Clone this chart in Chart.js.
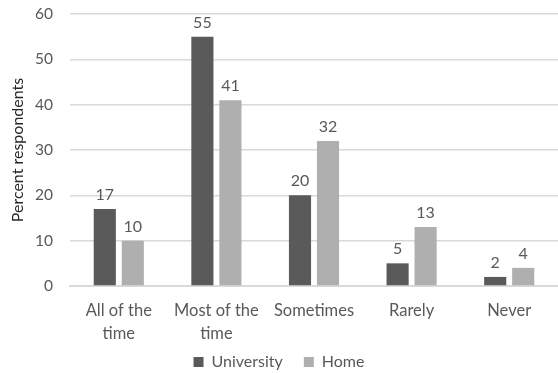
<!DOCTYPE html>
<html>
<head>
<meta charset="utf-8">
<script src="https://cdn.jsdelivr.net/npm/chart.js@4/dist/chart.umd.min.js"></script>
<style>
  html, body { margin: 0; padding: 0; background: #ffffff; }
  #wrap { width: 558px; height: 373px; }
</style>
</head>
<body>
<div id="wrap"><canvas id="chart" width="558" height="373"></canvas></div>
<script>
// Survey answers per frequency category
const categories = [["All of the", "time"], ["Most of the", "time"], "Sometimes", "Rarely", "Never"];
const universityValues = [17, 55, 20, 5, 2];
const homeValues = [10, 41, 32, 13, 4];
const yTicks = [0, 10, 20, 30, 40, 50, 60];

const FONT = "Lato, 'Open Sans', 'DejaVu Sans', sans-serif";
const TEXT = "#595959";

// Writes each bar's value just above it
const valueLabels = {
  id: "valueLabels",
  afterDatasetsDraw(chart) {
    const ctx = chart.ctx;
    ctx.save();
    ctx.font = "16px " + FONT;
    ctx.fillStyle = TEXT;
    ctx.textAlign = "center";
    ctx.textBaseline = "alphabetic";
    chart.data.datasets.forEach((ds, i) => {
      chart.getDatasetMeta(i).data.forEach((bar, j) => {
        ctx.fillText(String(ds.data[j]), bar.x, bar.y - 9);
      });
    });
    ctx.restore();
  }
};

new Chart(document.getElementById("chart"), {
  type: "bar",
  data: {
    labels: categories,
    datasets: [
      { label: "University", data: universityValues, backgroundColor: "#5a5a5a" },
      { label: "Home", data: homeValues, backgroundColor: "#afafaf" }
    ]
  },
  options: {
    responsive: false,
    animation: false,
    devicePixelRatio: 1,
    layout: { padding: { top: 14, right: 0, left: 0, bottom: -7 } },
    datasets: { bar: { categoryPercentage: 0.574, barPercentage: 0.79 } },
    plugins: {
      legend: {
        position: "bottom",
        labels: {
          font: { family: FONT, size: 16 },
          color: TEXT,
          boxWidth: 10,
          boxHeight: 10,
          padding: 9,
          // wider spacing between the two legend entries
          generateLabels(chart) {
            const items = Chart.defaults.plugins.legend.labels.generateLabels(chart);
            items.forEach((it, i) => { if (i < items.length - 1) it.text += "\u2003"; });
            return items;
          }
        }
      },
      tooltip: { enabled: false }
    },
    scales: {
      x: {
        afterFit(scale) { scale.height = 59; },
        grid: { display: false, drawTicks: false },
        border: { color: "#d9d9d9", width: 2 },
        ticks: {
          font: { family: FONT, size: 16.5, lineHeight: 1.35 },
          color: TEXT,
          padding: 14,
          maxRotation: 0,
          autoSkip: false
        }
      },
      y: {
        min: 0,
        max: 60,
        afterBuildTicks(scale) { scale.ticks = yTicks.map(v => ({ value: v })); },
        afterFit(scale) { scale.width = 70; scale.paddingTop = 0; },
        grid: { color: "#d9d9d9", lineWidth: 1.5, drawTicks: false },
        border: { display: false },
        ticks: {
          font: { family: FONT, size: 15.5 },
          color: TEXT,
          padding: 17
        },
        title: {
          display: true,
          text: "Percent respondents",
          font: { family: FONT, size: 16 },
          color: "#262626",
          padding: { top: 8, bottom: 0 }
        }
      }
    }
  },
  plugins: [valueLabels]
});
</script>
</body>
</html>
